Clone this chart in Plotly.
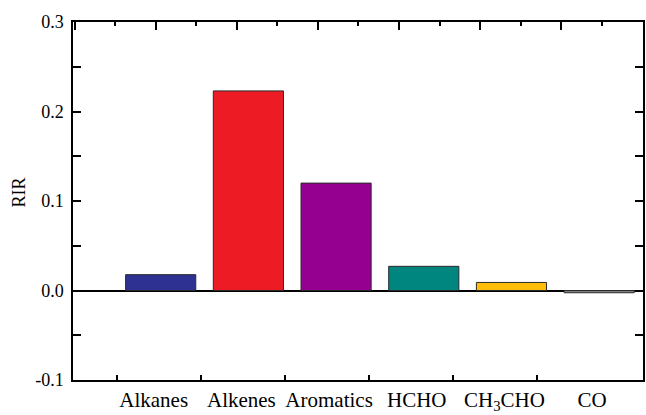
import plotly.graph_objects as go

categories = ["Alkanes", "Alkenes", "Aromatics", "HCHO", "CH<sub>3</sub>CHO", "CO"]
rir_values = [0.0177, 0.223, 0.120, 0.027, 0.009, -0.0025]
bar_colors = ["#2E3192", "#ED1C24", "#960090", "#00857F", "#FFBE0A", "#7F7F7F"]

y_tick_vals = [-0.1, 0.0, 0.1, 0.2, 0.3]
y_tick_text = ["-0.1", "0.0", "0.1", "0.2", "0.3"]

# decorative tick marks (Origin-style, not aligned to bars)
bottom_tick_positions = [0.5, 1.455, 2.42, 3.375, 4.33, 5.295]

FONT = "'Liberation Serif', 'Times New Roman', 'DejaVu Serif', serif"

fig = go.Figure()
fig.add_trace(go.Bar(
    x=categories, y=rir_values, width=0.8,
    marker=dict(color=bar_colors, line=dict(color="#2a2a2a", width=1)),
    showlegend=False,
))
# invisible traces to activate overlay axes
fig.add_trace(go.Scatter(x=[0, 6.5], y=[0, 0], xaxis="x2", mode="markers",
                         marker=dict(opacity=0), hoverinfo="skip", showlegend=False))
fig.add_trace(go.Scatter(x=[0, 6.5], y=[0, 0], xaxis="x3", mode="markers",
                         marker=dict(opacity=0), hoverinfo="skip", showlegend=False))

fig.update_layout(
    width=646, height=415,
    margin=dict(l=73, r=1, t=22, b=32),
    plot_bgcolor="white", paper_bgcolor="white",
    font=dict(family=FONT, color="black"),
    bargap=0.2,
    xaxis=dict(
        type="category", range=[-1, 5.5],
        showline=True, linecolor="black", linewidth=1.5, mirror=True,
        ticks="", showgrid=False, zeroline=False,
        tickfont=dict(size=21, family=FONT),
        ticklabelshift=-7,
    ),
    xaxis2=dict(
        overlaying="x", side="bottom", range=[0, 6.5],
        showline=False, showgrid=False, zeroline=False,
        showticklabels=False, ticks="inside", ticklen=5, tickwidth=1.5,
        tickcolor="black", tickmode="array", tickvals=bottom_tick_positions,
    ),
    xaxis3=dict(
        overlaying="x", side="top", range=[0, 6.5],
        showline=False, showgrid=False, zeroline=False,
        showticklabels=False, ticks="inside", ticklen=8, tickwidth=1.5,
        tickcolor="black", tick0=0.943, dtick=0.925,
        minor=dict(ticks="inside", ticklen=4, tickwidth=1.5, tickcolor="black",
                   dtick=0.4625, tick0=0.4805),
    ),
    yaxis=dict(
        range=[-0.1, 0.3],
        showline=True, linecolor="black", linewidth=1.5, mirror="allticks",
        ticks="inside", ticklen=8, tickwidth=1.5, tickcolor="black",
        tickmode="array", tickvals=y_tick_vals, ticktext=y_tick_text,
        minor=dict(ticks="inside", ticklen=5, tickwidth=1.5, tickcolor="black",
                   dtick=0.05, tick0=0.05),
        showgrid=False,
        zeroline=True, zerolinecolor="black", zerolinewidth=2,
        tickfont=dict(size=18, family=FONT),
        ticklabelstandoff=4,
    ),
    annotations=[dict(
        text="RIR", textangle=-90, xref="paper", yref="paper",
        x=-0.095, y=0.5235, showarrow=False, xanchor="center", yanchor="middle",
        font=dict(size=18, family=FONT),
    )],
)

fig.write_html("out.html")
